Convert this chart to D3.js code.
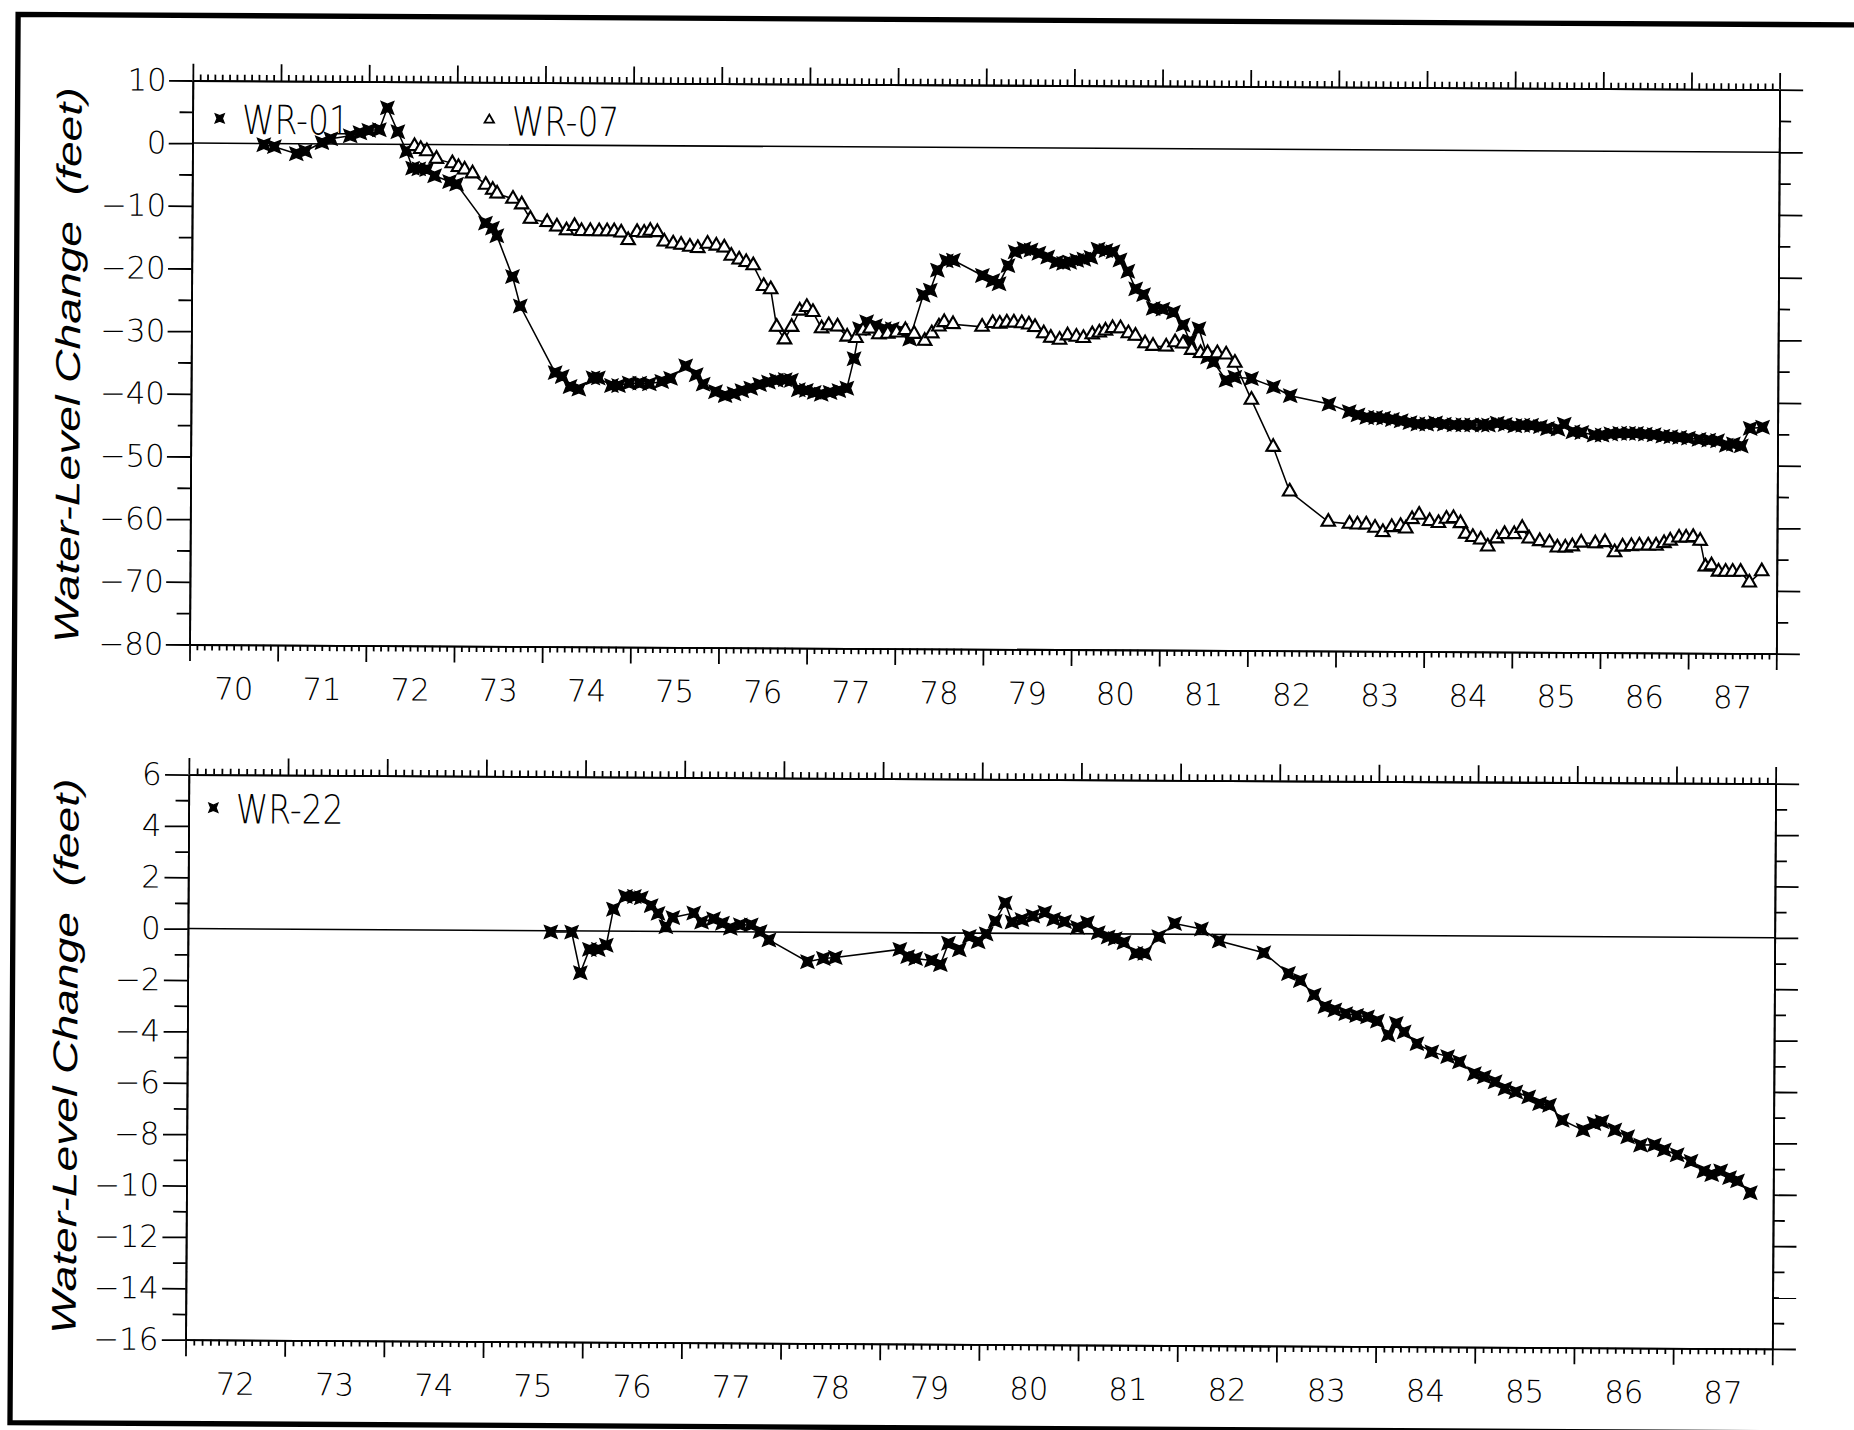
<!DOCTYPE html>
<html>
<head>
<meta charset="utf-8">
<script src="https://cdn.jsdelivr.net/npm/d3@7"></script>
<style>
html, body { margin: 0; padding: 0; background: #fff; }
svg { display: block; }
.axis path, .axis line { stroke: #000; stroke-width: 1.5; }
.axis text { font-family: "DejaVu Sans", sans-serif; font-weight: 200; font-size: 26px; fill: #000; }
.title { font-family: "Liberation Sans", "DejaVu Sans", sans-serif; font-style: italic; font-size: 29px; white-space: pre; }
.legend { font-family: "DejaVu Sans", sans-serif; font-weight: 200; font-size: 34px; }
</style>
</head>
<body>
<svg id="chart"></svg>
<script>
// [year (19xx), water-level change in feet]
const wr01 = [
  [70.81,-0.2],[70.93,-0.5],[71.18,-1.6],[71.28,-1.2],[71.47,0.2],[71.57,0.8],[71.79,1.3],[71.9,1.8],
  [72.0,2.2],[72.12,2.3],[72.21,5.8],[72.33,2.0],[72.43,-1.1],[72.5,-3.8],[72.57,-3.9],[72.66,-4.0],
  [72.75,-5.0],[72.92,-5.9],[73.0,-6.3],[73.33,-12.5],[73.41,-13.3],[73.46,-14.5],[73.64,-21.0],[73.73,-25.7],
  [74.13,-36.3],[74.21,-36.9],[74.3,-38.5],[74.4,-38.9],[74.56,-37.1],[74.62,-37.1],[74.77,-38.3],[74.85,-38.3],
  [74.97,-37.9],[75.09,-37.9],[75.2,-38.0],[75.34,-37.6],[75.44,-37.1],[75.61,-35.1],[75.73,-36.5],[75.81,-38.0],
  [75.95,-39.2],[76.06,-39.8],[76.16,-39.5],[76.25,-39.0],[76.35,-38.6],[76.45,-38.0],[76.55,-37.6],[76.64,-37.3],
  [76.74,-37.2],[76.81,-37.3],[76.89,-38.8],[76.98,-38.9],[77.07,-39.2],[77.15,-39.5],[77.25,-39.2],[77.35,-38.9],
  [77.44,-38.5],[77.52,-33.8],[77.58,-29.0],[77.66,-27.9],[77.76,-28.5],[77.86,-29.0],[77.95,-29.0],[78.05,-29.3],
  [78.15,-30.6],[78.3,-23.6],[78.38,-22.8],[78.46,-19.6],[78.56,-18.1],[78.64,-18.0],[78.97,-20.4],[79.09,-21.2],
  [79.16,-21.7],[79.26,-18.8],[79.34,-16.6],[79.44,-16.1],[79.52,-16.3],[79.61,-16.8],[79.71,-17.4],[79.81,-18.2],
  [79.89,-18.4],[79.96,-18.2],[80.04,-17.9],[80.12,-17.7],[80.2,-17.4],[80.28,-16.1],[80.37,-16.3],[80.45,-16.5],
  [80.53,-17.8],[80.62,-19.6],[80.71,-22.4],[80.8,-23.3],[80.91,-25.5],[81.02,-25.6],[81.14,-26.1],[81.25,-28.1],
  [81.33,-30.7],[81.43,-28.7],[81.53,-33.2],[81.6,-34.0],[81.74,-36.9],[81.84,-36.4],[82.03,-36.6],[82.28,-37.9],
  [82.47,-39.3],[82.91,-40.6],[83.14,-41.8],[83.24,-42.3],[83.34,-42.7],[83.44,-42.7],[83.53,-42.8],[83.63,-43.0],
  [83.73,-43.2],[83.83,-43.5],[83.92,-43.7],[84.02,-43.7],[84.12,-43.5],[84.22,-43.7],[84.33,-43.8],[84.43,-43.8],
  [84.53,-43.8],[84.65,-43.8],[84.72,-43.8],[84.82,-43.5],[84.91,-43.7],[85.02,-43.9],[85.11,-43.8],[85.21,-43.8],
  [85.31,-44.0],[85.39,-44.3],[85.51,-44.4],[85.58,-43.6],[85.68,-44.8],[85.78,-44.9],[85.92,-45.3],[86.01,-45.3],
  [86.11,-45.1],[86.21,-45.0],[86.31,-45.0],[86.4,-45.0],[86.5,-45.1],[86.6,-45.2],[86.7,-45.4],[86.79,-45.5],
  [86.89,-45.6],[86.99,-45.7],[87.11,-45.9],[87.22,-46.0],[87.32,-46.1],[87.42,-46.8],[87.5,-46.6],[87.59,-46.9],
  [87.69,-44.1],[87.83,-43.9]
];

const wr07 = [
  [72.52,-0.3],[72.59,-0.75],[72.66,-1.1],[72.77,-2.3],[72.95,-3.0],[73.02,-3.6],[73.09,-4.0],[73.18,-4.6],
  [73.33,-6.4],[73.41,-7.2],[73.46,-7.8],[73.64,-8.6],[73.74,-9.5],[73.84,-11.8],[74.03,-12.3],[74.14,-13.0],
  [74.25,-13.6],[74.34,-12.9],[74.42,-13.7],[74.52,-13.7],[74.62,-13.7],[74.71,-13.7],[74.79,-13.7],[74.87,-13.9],
  [74.95,-15.1],[75.05,-13.8],[75.13,-13.9],[75.2,-13.6],[75.28,-13.8],[75.36,-15.3],[75.46,-15.6],[75.55,-15.8],
  [75.65,-16.1],[75.74,-16.3],[75.85,-15.6],[75.95,-15.9],[76.04,-16.2],[76.12,-17.5],[76.21,-18.1],[76.29,-18.5],
  [76.37,-19.0],[76.49,-22.3],[76.57,-22.8],[76.64,-28.8],[76.73,-30.8],[76.81,-28.8],[76.9,-26.2],[76.98,-25.6],
  [77.05,-26.4],[77.15,-29.0],[77.23,-28.5],[77.33,-28.7],[77.44,-30.3],[77.54,-30.5],[77.62,-29.3],[77.7,-29.0],
  [77.8,-29.9],[77.9,-29.8],[78.0,-29.6],[78.1,-29.2],[78.2,-29.8],[78.32,-30.9],[78.4,-29.7],[78.48,-28.6],
  [78.54,-27.9],[78.64,-28.2],[78.97,-28.6],[79.09,-28.0],[79.17,-28.1],[79.25,-27.9],[79.33,-27.9],[79.42,-28.0],
  [79.5,-28.2],[79.57,-28.6],[79.67,-29.6],[79.75,-30.3],[79.85,-30.6],[79.94,-29.9],[80.04,-30.1],[80.12,-30.3],
  [80.22,-29.7],[80.3,-29.4],[80.37,-29.1],[80.45,-28.7],[80.54,-28.7],[80.63,-29.5],[80.71,-29.9],[80.82,-31.1],
  [80.91,-31.5],[81.06,-31.6],[81.16,-30.9],[81.25,-31.1],[81.35,-32.1],[81.45,-32.6],[81.53,-32.6],[81.64,-32.6],
  [81.74,-32.8],[81.84,-34.1],[82.03,-40.0],[82.28,-47.5],[82.47,-54.6],[82.91,-59.4],[83.15,-59.7],[83.24,-59.8],
  [83.34,-59.8],[83.44,-60.3],[83.53,-61.0],[83.63,-60.2],[83.73,-60.0],[83.79,-60.4],[83.86,-58.9],[83.94,-58.2],
  [84.06,-59.2],[84.16,-59.5],[84.25,-58.8],[84.33,-58.7],[84.41,-59.5],[84.47,-61.2],[84.55,-61.7],[84.64,-62.1],
  [84.72,-63.2],[84.82,-61.9],[84.91,-61.2],[85.02,-61.2],[85.11,-60.2],[85.19,-61.9],[85.31,-62.3],[85.42,-62.5],
  [85.51,-63.3],[85.6,-63.3],[85.68,-63.1],[85.78,-62.5],[85.94,-62.6],[86.05,-62.4],[86.16,-64.0],[86.25,-63.1],
  [86.35,-63.0],[86.44,-62.9],[86.54,-62.9],[86.63,-62.9],[86.72,-62.5],[86.79,-62.1],[86.89,-61.6],[86.97,-61.6],
  [87.05,-61.5],[87.13,-62.1],[87.19,-66.2],[87.26,-66.0],[87.34,-67.0],[87.42,-67.0],[87.5,-67.0],[87.59,-67.0],
  [87.69,-68.7],[87.83,-66.9]
];

const wr22 = [
  [75.66,-0.05],[75.87,-0.05],[75.96,-1.63],[76.05,-0.72],[76.14,-0.72],[76.22,-0.55],[76.29,0.85],[76.41,1.35],
  [76.5,1.35],[76.57,1.3],[76.67,1.0],[76.74,0.7],[76.82,0.18],[76.89,0.54],[77.1,0.72],[77.18,0.37],
  [77.3,0.5],[77.39,0.33],[77.47,0.14],[77.57,0.27],[77.68,0.27],[77.77,0.01],[77.86,-0.31],[78.25,-1.15],
  [78.41,-1.02],[78.53,-0.98],[79.18,-0.65],[79.26,-0.93],[79.34,-1.0],[79.5,-1.07],[79.59,-1.23],[79.67,-0.4],
  [79.78,-0.65],[79.88,-0.13],[79.97,-0.33],[80.05,-0.03],[80.14,0.47],[80.24,1.18],[80.31,0.44],[80.41,0.54],
  [80.52,0.68],[80.64,0.82],[80.73,0.56],[80.84,0.47],[80.97,0.25],[81.07,0.43],[81.18,0.05],[81.28,-0.12],
  [81.35,-0.18],[81.44,-0.33],[81.56,-0.75],[81.65,-0.75],[81.79,-0.1],[81.95,0.42],[82.22,0.21],[82.4,-0.25],
  [82.85,-0.7],[83.1,-1.5],[83.22,-1.77],[83.36,-2.33],[83.47,-2.78],[83.57,-2.91],[83.68,-3.05],[83.79,-3.12],
  [83.9,-3.17],[84.0,-3.33],[84.11,-3.87],[84.19,-3.42],[84.27,-3.75],[84.4,-4.2],[84.55,-4.52],[84.71,-4.7],
  [84.83,-4.9],[84.98,-5.36],[85.08,-5.48],[85.19,-5.67],[85.29,-5.93],[85.4,-6.06],[85.53,-6.25],[85.64,-6.51],
  [85.74,-6.57],[85.87,-7.15],[86.08,-7.53],[86.19,-7.27],[86.27,-7.2],[86.4,-7.52],[86.53,-7.78],[86.66,-8.1],
  [86.8,-8.09],[86.9,-8.28],[87.03,-8.47],[87.17,-8.72],[87.3,-9.1],[87.38,-9.23],[87.47,-9.09],[87.56,-9.35],
  [87.64,-9.47],[87.77,-9.93]
];

const topYears = [70, 88];
const topRange = [-80, 10];
const bottomYears = [72, 88];
const bottomRange = [-16, 6];
const yTitle = "Water-Level Change  (feet)";

// drawing is done in the scan's own units, scaled up to the window
const VW = 1568, VH = 1209.4;
const svg = d3.select('#chart')
    .attr('width', 1854)
    .attr('height', 1430)
    .attr('viewBox', `0 0 ${VW} ${VH}`);

// the scanned sheet sits a little crooked
const sheet = svg.append('g').attr('transform', 'rotate(0.33,163,68)');

// outer frame (no right edge on the scan)
sheet.append('path')
    .attr('d', 'M1600,13 L15,13 L15,1204 L1600,1204')
    .attr('fill', 'none')
    .attr('stroke', '#000')
    .attr('stroke-width', 4.5);

// four pointed filled star, like the plotter symbol
const star4 = {
    draw(context, size) {
        const s = Math.sqrt(size) / 2, k = s * 0.6;
        context.moveTo(-s, -s);
        context.lineTo(0, -k);
        context.lineTo(s, -s);
        context.lineTo(k, 0);
        context.lineTo(s, s);
        context.lineTo(0, k);
        context.lineTo(-s, s);
        context.lineTo(-k, 0);
        context.closePath();
    }
};

function drawPanel(opts) {
    const W = 1342, H = opts.height;
    const g = sheet.append('g').attr('transform', `translate(163,${opts.top})`);

    const x = d3.scaleLinear().domain(opts.years).range([0, W]);
    const y = d3.scaleLinear().domain(opts.range).range([H, 0]);

    const years = d3.range(opts.years[0], opts.years[1] + 1);
    const months = d3.range(opts.years[0] * 12, opts.years[1] * 12 + 1)
        .filter(m => m % 12 !== 0).map(m => m / 12);
    const mids = d3.range(opts.years[0] + 0.5, opts.years[1], 1);

    const yMajor = d3.range(opts.range[0], opts.range[1] + 0.001, opts.major);
    const yMinor = d3.range(opts.range[0] + opts.major / 2, opts.range[1], opts.major);

    // x axes: bottom (ticks down) and top (ticks up)
    g.append('g').attr('class', 'axis').attr('transform', `translate(0,${H})`)
        .call(d3.axisBottom(x).tickValues(years).tickSize(14).tickSizeOuter(0).tickFormat(''));
    g.append('g').attr('class', 'axis').attr('transform', `translate(0,${H})`)
        .call(d3.axisBottom(x).tickValues(months).tickSize(5).tickSizeOuter(0).tickFormat(''));
    const lab = g.append('g').attr('class', 'axis').attr('transform', `translate(0,${H})`)
        .call(d3.axisBottom(x).tickValues(mids).tickSize(0).tickPadding(28).tickFormat(d => Math.floor(d)));
    lab.select('.domain').remove();

    g.append('g').attr('class', 'axis')
        .call(d3.axisTop(x).tickValues(years).tickSize(14).tickSizeOuter(0).tickFormat(''));
    g.append('g').attr('class', 'axis')
        .call(d3.axisTop(x).tickValues(months).tickSize(5).tickSizeOuter(0).tickFormat(''));

    // y axes: left with labels, right plain
    g.append('g').attr('class', 'axis')
        .call(d3.axisLeft(y).tickValues(yMajor).tickSize(20).tickPadding(opts.pad).tickSizeOuter(0));
    g.append('g').attr('class', 'axis')
        .call(d3.axisLeft(y).tickValues(yMinor).tickSize(11).tickSizeOuter(0).tickFormat(''));
    g.append('g').attr('class', 'axis').attr('transform', `translate(${W},0)`)
        .call(d3.axisRight(y).tickValues(yMajor).tickSize(20).tickSizeOuter(0).tickFormat(''));
    g.append('g').attr('class', 'axis').attr('transform', `translate(${W},0)`)
        .call(d3.axisRight(y).tickValues(yMinor).tickSize(10).tickSizeOuter(0).tickFormat(''));

    // zero line
    g.append('line')
        .attr('x1', 0).attr('x2', W)
        .attr('y1', y(0)).attr('y2', y(0))
        .attr('stroke', '#000').attr('stroke-width', 1.3);

    // axis title
    g.append('text')
        .attr('class', 'title')
        .attr('xml:space', 'preserve')
        .attr('transform', `translate(${opts.titleX},${H / 2 + opts.titleDy}) rotate(-90)`)
        .attr('text-anchor', 'middle')
        .attr('textLength', 470)
        .attr('lengthAdjust', 'spacingAndGlyphs')
        .text(yTitle);

    const line = d3.line().x(d => x(d[0])).y(d => y(d[1]));

    opts.series.forEach(s => {
        g.append('path')
            .datum(s.data)
            .attr('d', line)
            .attr('fill', 'none')
            .attr('stroke', '#000')
            .attr('stroke-width', 1.3);
    });

    opts.series.forEach(s => {
        const sym = s.kind === 'star'
            ? d3.symbol().type(star4).size(110)
            : d3.symbol().type(d3.symbolTriangle).size(56);
        g.selectAll(null)
            .data(s.data)
            .enter()
            .append('path')
            .attr('transform', d => `translate(${x(d[0])},${y(d[1])})`)
            .attr('d', sym)
            .attr('fill', s.kind === 'star' ? '#000' : '#fff')
            .attr('stroke', '#000')
            .attr('stroke-width', s.kind === 'star' ? 1.2 : 1.8);

        // legend entry
        const lsym = s.kind === 'star'
            ? d3.symbol().type(star4).size(60)
            : d3.symbol().type(d3.symbolTriangle).size(28);
        g.append('path')
            .attr('transform', `translate(${s.legend[0]},${s.legend[1]})`)
            .attr('d', lsym)
            .attr('fill', s.kind === 'star' ? '#000' : '#fff')
            .attr('stroke', '#000')
            .attr('stroke-width', s.kind === 'star' ? 1 : 1.5);
        g.append('text')
            .attr('class', 'legend')
            .attr('x', s.legend[0] + 19)
            .attr('y', s.legend[1] + 13)
            .attr('textLength', 91)
            .attr('lengthAdjust', 'spacingAndGlyphs')
            .text(s.name);
    });
}

drawPanel({
    top: 68, height: 477, years: topYears, range: topRange, major: 10, pad: 2,
    titleX: -94, titleDy: 3,
    series: [
        { name: 'WR-01', kind: 'star', data: wr01, legend: [23, 32] },
        { name: 'WR-07', kind: 'tri', data: wr07, legend: [251, 32] }
    ]
});

drawPanel({
    top: 655, height: 478, years: bottomYears, range: bottomRange, major: 2, pad: 3,
    titleX: -93, titleDy: 0,
    series: [
        { name: 'WR-22', kind: 'star', data: wr22, legend: [21, 28] }
    ]
});
</script>
</body>
</html>
